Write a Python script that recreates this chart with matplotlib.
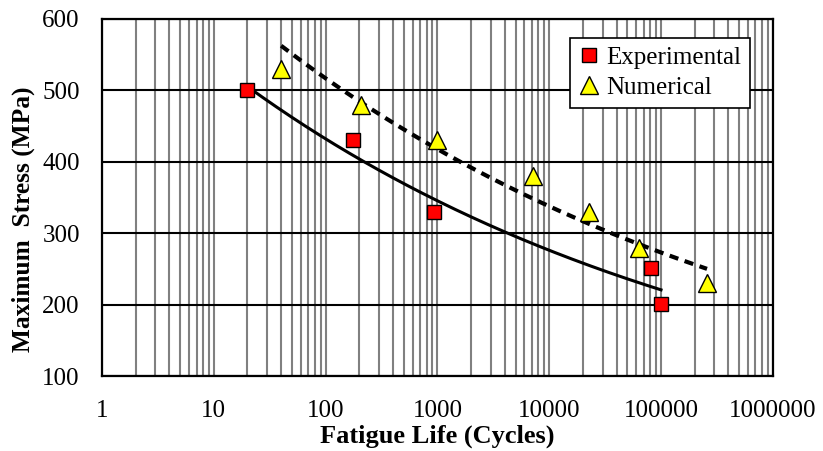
import numpy as np
import matplotlib
matplotlib.use("Agg")
import matplotlib.pyplot as plt
from matplotlib.ticker import FixedLocator, FuncFormatter, MultipleLocator, NullFormatter

# Fatigue test data
exp_cycles = [20, 175, 930, 81000, 100000]
exp_stress = [500, 430, 330, 251, 201]
num_cycles = [40, 207, 990, 7160, 22700, 63500, 258000]
num_stress = [530, 480, 430, 380, 330, 280, 230]

plt.rcParams["font.family"] = ["Liberation Serif", "DejaVu Serif"]

fig = plt.figure(figsize=(8.23, 4.51), dpi=100)
ax = fig.add_axes([0.124, 0.166, 0.815, 0.792])


def power_fit(x, y):
    b, ln_a = np.polyfit(np.log(x), np.log(y), 1)
    xs = np.logspace(np.log10(min(x)), np.log10(max(x)), 200)
    return xs, np.exp(ln_a) * xs ** b


xs, ys = power_fit(exp_cycles, exp_stress)
ax.plot(xs, ys, color="black", lw=2.2, zorder=3)
xs, ys = power_fit(num_cycles, num_stress)
ax.plot(xs, ys, color="black", lw=3, ls=(0, (2.2, 1.6)), zorder=3)

ax.plot(exp_cycles, exp_stress, ls="none", marker="s", ms=10,
        mfc="#ff0000", mec="black", mew=1.0, zorder=4, label="Experimental")
ax.plot(num_cycles, num_stress, ls="none", marker="^", ms=13,
        mfc="#ffff00", mec="black", mew=1.0, zorder=4, label="Numerical")

ax.set_xscale("log")
ax.set_xlim(1, 1e6)
ax.set_ylim(100, 600)
decades = [10.0 ** k for k in range(0, 7)]
minors = [m * d for d in decades[:-1] for m in range(2, 10)]
ax.yaxis.set_major_locator(MultipleLocator(100))
ax.xaxis.set_major_locator(FixedLocator(decades))
ax.xaxis.set_minor_locator(FixedLocator(minors))
ax.xaxis.set_major_formatter(FuncFormatter(lambda v, p: f"{int(round(v))}"))
ax.xaxis.set_minor_formatter(NullFormatter())

ax.grid(True, axis="x", which="both", color="#808080", lw=1.5, zorder=1)
ax.grid(True, axis="y", which="major", color="black", lw=1.5, zorder=1)
ax.set_axisbelow(True)

ax.tick_params(which="both", length=0, labelsize=18)
ax.tick_params(axis="x", pad=17)
ax.tick_params(axis="y", pad=16)
for s in ax.spines.values():
    s.set_linewidth(1.6)
    s.set_color("black")

ax.set_xlabel("Fatigue Life (Cycles)", fontsize=19, fontweight="bold", labelpad=2)
ax.set_ylabel("Maximum  Stress (MPa)", fontsize=18.3, fontweight="bold")
ax.yaxis.set_label_coords(-0.1, 0.44)

leg = ax.legend(loc="upper right", bbox_to_anchor=(0.966, 0.947), fontsize=18,
                frameon=True, fancybox=False, edgecolor="black",
                handlelength=0.8, handletextpad=0.3, borderpad=0.35,
                labelspacing=0.3, borderaxespad=0.0)
leg.get_frame().set_linewidth(1.2)
leg.get_frame().set_alpha(1)

fig.savefig("out.png", dpi=100)
